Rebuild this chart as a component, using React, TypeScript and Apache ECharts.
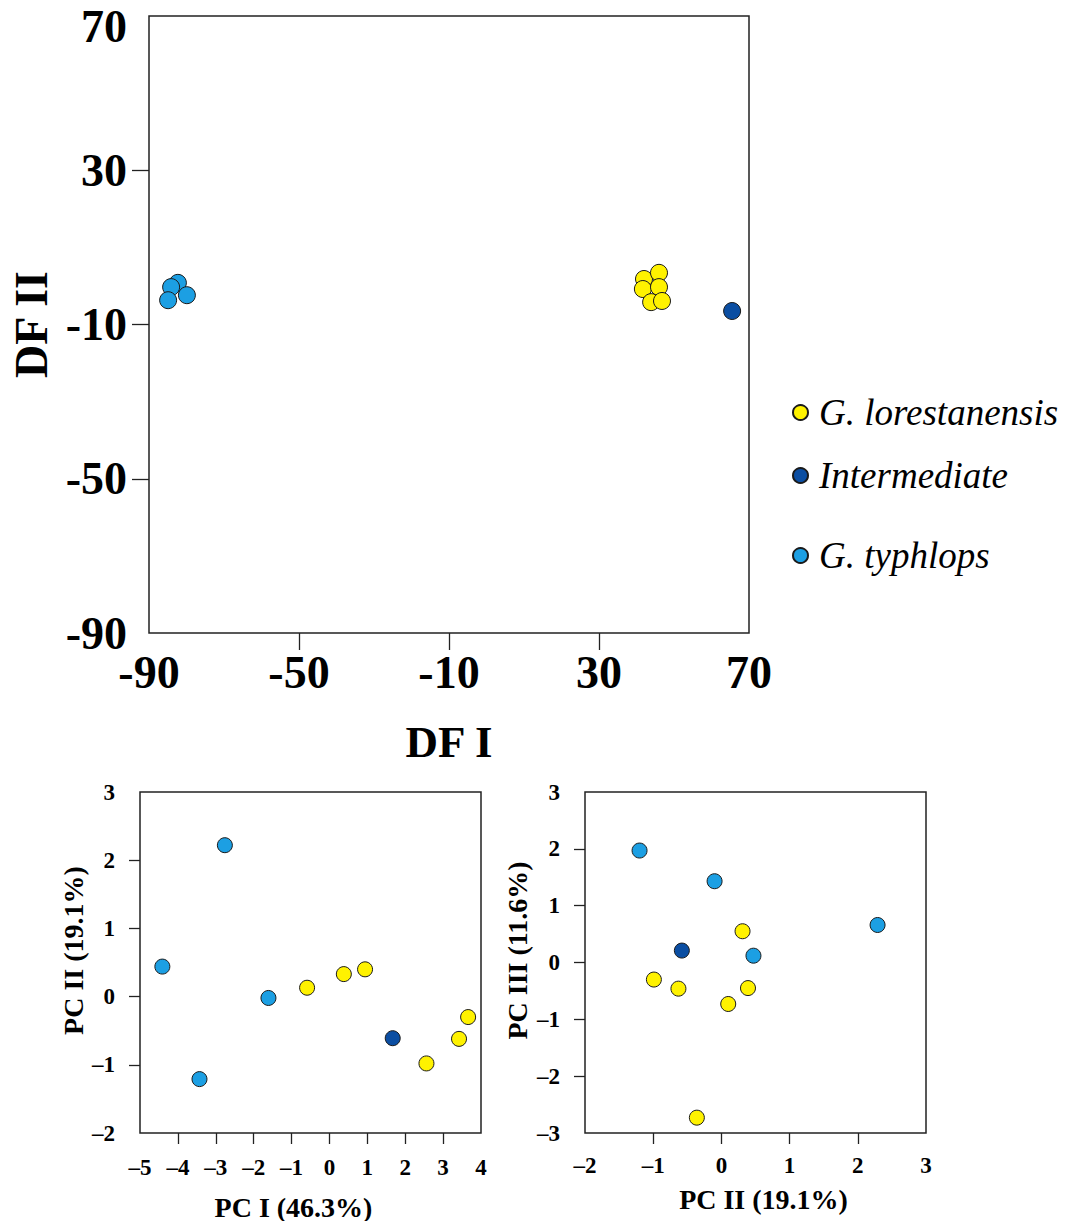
import React, { useEffect, useRef } from "react";
import * as echarts from "echarts";

const groupNames = ["G. lorestanensis", "Intermediate", "G. typhlops"];
const groupColors = ["#FFF200", "#0B4EA2", "#1C9FE3"];

// DF I / DF II
const dfLorX = [42.0, 46.0, 41.7, 46.0, 43.9, 46.8];
const dfLorY = [1.8, 3.4, -0.8, -0.3, -4.2, -3.9];
const dfIntX = [65.5];
const dfIntY = [-6.5];
const dfTypX = [-82.3, -84.1, -84.9, -79.9];
const dfTypY = [0.8, -0.3, -3.7, -2.4];

// PC I / PC II
const pc1LorX = [-0.59, 0.38, 0.94, 3.66, 3.42, 2.56];
const pc1LorY = [0.13, 0.33, 0.4, -0.3, -0.62, -0.98];
const pc1IntX = [1.67];
const pc1IntY = [-0.61];
const pc1TypX = [-2.76, -4.41, -1.61, -3.43];
const pc1TypY = [2.22, 0.44, -0.02, -1.21];

// PC II / PC III
const pc2LorX = [0.31, -0.99, -0.63, 0.39, 0.1, -0.36];
const pc2LorY = [0.55, -0.3, -0.46, -0.45, -0.73, -2.73];
const pc2IntX = [-0.58];
const pc2IntY = [0.21];
const pc2TypX = [-1.2, -0.1, 2.29, 0.47];
const pc2TypY = [1.97, 1.43, 0.66, 0.12];

const dfTicks = [-50, -10, 30];
const pc1XTicks = [-4, -3, -2, -1, 0, 1, 2, 3];
const pc1YTicks = [-1, 0, 1, 2];
const pc2XTicks = [-1, 0, 1, 2];
const pc2YTicks = [-2, -1, 0, 1, 2];

const FONT = "Liberation Serif";

const zip = (xs: number[], ys: number[]) => xs.map((x, i) => [x, ys[i]]);
const dashFmt = (v: number) => String(v).replace("-", "\u2013");

export default function App() {
  const ref = useRef<HTMLDivElement>(null);
  useEffect(() => {
    if (!ref.current) return;
    const chart = echarts.init(ref.current, undefined, { renderer: "svg" });

    const gridStyle = {
      show: true, borderColor: "#222", borderWidth: 1.5, backgroundColor: "transparent",
      containLabel: false, outerBoundsMode: "none",
    };
    const axisCommon = (fs: number, margin: number, tickLen: number, ticks: number[], fmt?: any) => ({
      axisLine: { show: false, onZero: false },
      splitLine: { show: false },
      axisTick: { show: true, length: tickLen, customValues: ticks, lineStyle: { color: "#222", width: 1.3 } },
      axisLabel: {
        fontFamily: FONT, fontWeight: "bold", fontSize: fs, color: "#000", margin,
        ...(fmt ? { formatter: fmt } : {}),
      },
    });

    const sets = [
      [zip(dfLorX, dfLorY), zip(dfIntX, dfIntY), zip(dfTypX, dfTypY)],
      [zip(pc1LorX, pc1LorY), zip(pc1IntX, pc1IntY), zip(pc1TypX, pc1TypY)],
      [zip(pc2LorX, pc2LorY), zip(pc2IntX, pc2IntY), zip(pc2TypX, pc2TypY)],
    ];
    const sizes = [17, 15, 15];
    const series: any[] = [];
    sets.forEach((grp, gi) => {
      grp.forEach((data, si) => {
        series.push({
          type: "scatter",
          name: groupNames[si],
          xAxisIndex: gi,
          yAxisIndex: gi,
          data,
          symbol: "circle",
          symbolSize: sizes[gi],
          itemStyle: { color: groupColors[si], borderColor: "#1a1a1a", borderWidth: 1, opacity: 1 },
        });
      });
    });

    const legendTops = [409, 472, 552];
    const legends = groupNames.map((n, i) => ({
      data: [n],
      left: 787,
      top: legendTops[i] - 20,
      icon: "circle",
      itemWidth: 15,
      itemHeight: 15,
      selectedMode: false,
      textStyle: { fontFamily: FONT, fontStyle: "italic", fontSize: 37, color: "#000", padding: [0, 0, 0, 6] },
    }));

    const topYAxis: any = axisCommon(46, 22, 17, dfTicks, (v: number) => (v === 70 ? "{t|70}" : String(v)));
    topYAxis.axisLabel.rich = {
      t: { fontFamily: FONT, fontWeight: "bold", fontSize: 46, color: "#000", lineHeight: 46, padding: [20, 0, 0, 0] },
    };

    chart.setOption({
      animation: false,
      backgroundColor: "#fff",
      legend: legends,
      grid: [
        { left: 149, top: 16, width: 600, height: 617, ...gridStyle },
        { left: 140, top: 792, width: 341, height: 341, ...gridStyle },
        { left: 585, top: 792, width: 341, height: 341, ...gridStyle },
      ],
      xAxis: [
        {
          type: "value", gridIndex: 0, min: -90, max: 70, interval: 40,
          name: "DF I", nameLocation: "middle", nameGap: 86,
          nameTextStyle: { fontFamily: FONT, fontWeight: "bold", fontSize: 45, color: "#000" },
          ...axisCommon(46, 16, 17, dfTicks),
        },
        {
          type: "value", gridIndex: 1, min: -5, max: 4, interval: 1,
          name: "PC I (46.3%)", nameLocation: "middle", nameGap: 60,
          nameTextStyle: { fontFamily: FONT, fontWeight: "bold", fontSize: 28, color: "#000", padding: [0, 34, 0, 0] },
          ...axisCommon(23, 23, 11, pc1XTicks, dashFmt),
        },
        {
          type: "value", gridIndex: 2, min: -2, max: 3, interval: 1,
          name: "PC II (19.1%)", nameLocation: "middle", nameGap: 52,
          nameTextStyle: { fontFamily: FONT, fontWeight: "bold", fontSize: 28, color: "#000", padding: [0, 0, 0, 16] },
          ...axisCommon(23, 21, 11, pc2XTicks, dashFmt),
        },
      ],
      yAxis: [
        {
          type: "value", gridIndex: 0, min: -90, max: 70, interval: 40,
          name: "DF II", nameLocation: "middle", nameGap: 95,
          nameTextStyle: { fontFamily: FONT, fontWeight: "bold", fontSize: 46, color: "#000" },
          ...topYAxis,
        },
        {
          type: "value", gridIndex: 1, min: -2, max: 3, interval: 1,
          name: "PC II (19.1%)", nameLocation: "middle", nameGap: 53,
          nameTextStyle: { fontFamily: FONT, fontWeight: "bold", fontSize: 28, color: "#000", padding: [0, 0, 0, 24] },
          ...axisCommon(23, 25, 11, pc1YTicks, dashFmt),
        },
        {
          type: "value", gridIndex: 2, min: -3, max: 3, interval: 1,
          name: "PC III (11.6%)", nameLocation: "middle", nameGap: 54,
          nameTextStyle: { fontFamily: FONT, fontWeight: "bold", fontSize: 28, color: "#000", padding: [0, 0, 0, 24] },
          ...axisCommon(23, 25, 11, pc2YTicks, dashFmt),
        },
      ],
      series,
    });
    return () => chart.dispose();
  }, []);
  return (
    <div
      ref={ref}
      style={{ position: "absolute", left: 0, top: 0, width: 1077, height: 1221 }}
    />
  );
}
